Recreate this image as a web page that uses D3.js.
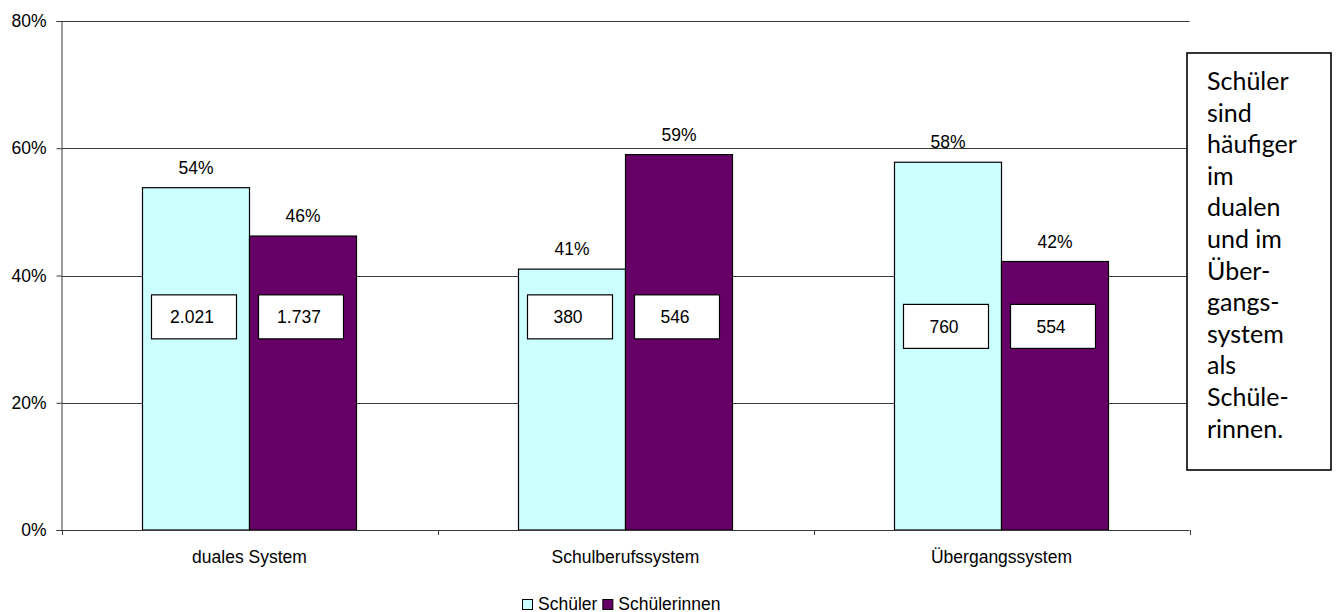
<!DOCTYPE html>
<html>
<head>
<meta charset="utf-8">
<script src="https://cdn.jsdelivr.net/npm/d3@7/dist/d3.min.js"></script>
<style>
  html, body { margin: 0; padding: 0; background: #fff; }
  svg { display: block; }
  text { font-family: "Liberation Sans", Arial, sans-serif; fill: #000; }
</style>
</head>
<body>
<svg id="chart" width="1336" height="612"></svg>
<script>
// ---- data ----
const categories = ["duales System", "Schulberufssystem", "Übergangssystem"];
const series = ["Schüler", "Schülerinnen"];
const schuelerPct = [53.8, 41.0, 57.8];
const schuelerinnenPct = [46.2, 59.0, 42.2];
const schuelerCount = ["2.021", "380", "760"];
const schuelerinnenCount = ["1.737", "546", "554"];
const yTicks = [0, 20, 40, 60, 80];
const noteLines = ["Schüler", "sind", "häufiger", "im", "dualen", "und im", "Über-", "gangs-", "system", "als", "Schüle-", "rinnen."];

// ---- layout ----
const colors = { "Schüler": "#CCFFFF", "Schülerinnen": "#660066" };
const plot = { left: 61.5, right: 1189.5, top: 21, bottom: 530 };
const countBoxLevel = [33.5, 33.5, 32]; // vertical placement (in % units) of the count boxes per category

const svg = d3.select("#chart");

const x0 = d3.scaleBand().domain(categories).range([plot.left, plot.right]).padding(0);
const groupWidth = 214;
const x1 = d3.scaleBand().domain(series).range([0, groupWidth]).padding(0);
const y = d3.scaleLinear().domain([0, 80]).range([plot.bottom, plot.top]);

const rows = categories.map((c, i) => ({
  cat: c, i,
  values: [
    { s: series[0], v: schuelerPct[i], n: schuelerCount[i] },
    { s: series[1], v: schuelerinnenPct[i], n: schuelerinnenCount[i] }
  ]
}));

// gridlines
svg.append("g").selectAll("line")
  .data(yTicks.filter(d => d > 0))
  .join("line")
  .attr("x1", plot.left).attr("x2", plot.right)
  .attr("y1", d => Math.round(y(d)) + 0.5).attr("y2", d => Math.round(y(d)) + 0.5)
  .attr("stroke", "#3a3a3a").attr("stroke-width", 1);

// bars
const groups = svg.append("g").selectAll("g")
  .data(rows).join("g")
  .attr("transform", d => `translate(${x0(d.cat) + (x0.bandwidth() - groupWidth) / 2},0)`);

groups.selectAll("rect.bar")
  .data(d => d.values).join("rect")
  .attr("class", "bar")
  .attr("x", d => x1(d.s))
  .attr("width", x1.bandwidth())
  .attr("y", d => y(d.v))
  .attr("height", d => y(0) - y(d.v))
  .attr("fill", d => colors[d.s])
  .attr("stroke", "#000").attr("stroke-width", 1.2);

// percent labels
groups.selectAll("text.pct")
  .data(d => d.values).join("text")
  .attr("class", "pct")
  .attr("x", d => x1(d.s) + x1.bandwidth() / 2)
  .attr("y", d => y(d.v) - 14)
  .attr("text-anchor", "middle")
  .attr("font-size", 17.5)
  .text(d => Math.round(d.v) + "%");

// count boxes
const boxW = 85, boxH = 44;
groups.each(function(row) {
  const g = d3.select(this);
  const cy = y(countBoxLevel[row.i]);
  const items = g.selectAll("g.cnt").data(row.values).join("g").attr("class", "cnt")
    .attr("transform", d => `translate(${x1(d.s) + x1.bandwidth() / 2 - 2},${cy})`);
  items.append("rect")
    .attr("x", -boxW / 2).attr("y", -boxH / 2)
    .attr("width", boxW).attr("height", boxH)
    .attr("fill", "#fff").attr("stroke", "#000").attr("stroke-width", 1.2);
  items.append("text")
    .attr("x", -2).attr("y", 6.5)
    .attr("text-anchor", "middle")
    .attr("font-size", 17.5)
    .text(d => d.n);
});

// y axis
const yAxis = svg.append("g")
  .attr("transform", `translate(${plot.left},0)`)
  .call(d3.axisLeft(y).tickValues(yTicks).tickSize(5).tickPadding(10).tickFormat(d => d + "%"));
yAxis.select(".domain").attr("stroke", "#3a3a3a");
yAxis.selectAll(".tick line").attr("stroke", "#3a3a3a");
yAxis.selectAll(".tick text").attr("font-size", 17.5).attr("font-family", "Liberation Sans, Arial, sans-serif").attr("fill", "#000");

// x axis
const xAxis = svg.append("g")
  .attr("transform", `translate(0,${plot.bottom})`)
  .call(d3.axisBottom(x0).tickSize(0).tickPadding(21));
xAxis.select(".domain").attr("stroke", "#3a3a3a").attr("d", `M${plot.left},0.5H${plot.right}`);
xAxis.selectAll(".tick text").attr("font-size", 17.5).attr("font-family", "Liberation Sans, Arial, sans-serif").attr("fill", "#000");
const boundaries = categories.map(c => x0(c)).concat([x0(categories[categories.length - 1]) + x0.bandwidth()]);
xAxis.selectAll("line.bt").data(boundaries).join("line")
  .attr("class", "bt")
  .attr("x1", d => Math.round(d) + 0.5).attr("x2", d => Math.round(d) + 0.5)
  .attr("y1", 0).attr("y2", 5)
  .attr("stroke", "#3a3a3a");

// legend
const legend = svg.append("g").attr("transform", "translate(522,599)");
let lx = 0;
series.forEach(s => {
  legend.append("rect").attr("x", lx + 0.5).attr("y", 0.5).attr("width", 10).attr("height", 10)
    .attr("fill", colors[s]).attr("stroke", "#000").attr("stroke-width", 1);
  const t = legend.append("text").attr("x", lx + 16).attr("y", 10.5).attr("font-size", 17.5).text(s);
  lx += 16 + t.node().getComputedTextLength() + 5;
});

// note box
const note = svg.append("g");
note.append("rect").attr("x", 1187).attr("y", 53).attr("width", 144).attr("height", 417)
  .attr("fill", "#fff").attr("stroke", "#000").attr("stroke-width", 1.6);
note.selectAll("text").data(noteLines).join("text")
  .attr("x", 1207)
  .attr("y", (d, i) => 90 + i * 31.6)
  .style("font-family", "Lato, 'Open Sans', sans-serif")
  .attr("font-size", 25)
  .text(d => d);
</script>
</body>
</html>
